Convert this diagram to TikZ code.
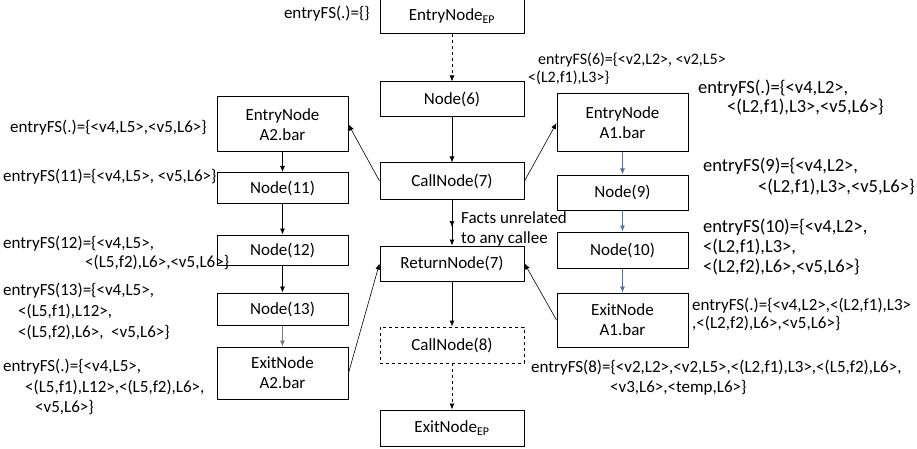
\documentclass[tikz,border=0pt]{standalone}
\usepackage{fontspec}
\setmainfont{Carlito}
\usetikzlibrary{arrows.meta, decorations.markings}
\definecolor{FlowBlue}{RGB}{68, 114, 196}
\definecolor{FlowGrey}{RGB}{120, 120, 120}
\newcommand{\fsfont}{\fontsize{17}{20}\selectfont}
\newcommand{\fsbig}{\fontsize{18.5}{20}\selectfont}
\newcommand{\fssmall}{\fontsize{16}{20}\selectfont}
\tikzset{
    cfgbox/.style={draw, line width=1pt, minimum width=144, align=center, font=\fsfont, inner sep=2pt},
    procbox/.style={cfgbox, minimum width=131},
    factnote/.style={anchor=base west, align=left, inner sep=0pt, font=\fsfont},
    flow/.style={line width=0.8pt, -{Latex[length=6pt, width=5pt]}},
    callflow/.style={line width=0.6pt, -{Latex[length=6pt, width=5pt]}},
    midarrow/.style={postaction={decorate}, decoration={markings,
        mark=at position 0.6 with {\arrow{Latex[length=6pt, width=5pt]}}}}
}
\begin{document}
\begin{tikzpicture}[x=1pt, y=-1pt]
        \useasboundingbox (0,0) rectangle (917,449);
        % main procedure
        \node[cfgbox, minimum height=36] (epEntry) at (452,16) {EntryNode\textsubscript{EP}};
        \node[cfgbox, minimum height=35] (n6) at (452,99.5) {Node(6)};
        \node[cfgbox, minimum height=36] (call7) at (452,181) {CallNode(7)};
        \node[cfgbox, minimum height=35] (ret7) at (452,263.5) {ReturnNode(7)};
        \node[cfgbox, minimum height=36, dashed, line width=0.8pt] (call8) at (452,345) {CallNode(8)};
        \node[cfgbox, minimum height=36] (epExit) at (452,428) {ExitNode\textsubscript{EP}};
        % callee A2.bar
        \node[procbox, minimum height=55] (a2Entry) at (282.5,124.5) {EntryNode\\A2.bar};
        \node[procbox, minimum height=31] (n11) at (282.5,188) {Node(11)};
        \node[procbox, minimum height=30] (n12) at (282.5,250) {Node(12)};
        \node[procbox, minimum height=32] (n13) at (282.5,309) {Node(13)};
        \node[procbox, minimum height=52] (a2Exit) at (282.5,373) {ExitNode\\A2.bar};
        % callee A1.bar
        \node[procbox, minimum height=58] (a1Entry) at (622.5,123) {EntryNode\\A1.bar};
        \node[procbox, minimum height=35] (n9) at (622.5,192.5) {Node(9)};
        \node[procbox, minimum height=36] (n10) at (622.5,250) {Node(10)};
        \node[procbox, minimum height=54] (a1Exit) at (622.5,320) {ExitNode\\A1.bar};

        \draw[flow, dashed] (epEntry) -- (n6);
        \draw[flow] (n6) -- (call7);
        \draw[flow, midarrow] (call7) -- (ret7);
        \draw[flow] (ret7) -- (call8);
        \draw[flow, dashed] (call8) -- (epExit);

        \draw[callflow] (call7.west) -- (a2Entry.east);
        \draw[callflow] (call7.east) -- (a1Entry.west);
        \draw[callflow] (a2Exit.east) -- (ret7.west);
        \draw[callflow] (a1Exit.west) -- (ret7.east);

        \draw[flow] (a2Entry) -- (n11);
        \draw[flow] (n11) -- (n12);
        \draw[flow] (n12) -- (n13);
        \draw[flow, FlowGrey] (n13) -- (a2Exit);
        \draw[flow, FlowBlue] (a1Entry) -- (n9);
        \draw[flow, FlowBlue] (n9) -- (n10);
        \draw[flow, FlowBlue] (n10) -- (a1Exit);

        \node[factnote] (unrel) at (461,243) {Facts unrelated\\to any callee};

        % entry fact sets (anchored at the baseline of their last line)
        \node[factnote, anchor=base east] (fsEp) at (370,19) {entryFS(.)=\{\}};
        \node[factnote, font=\fssmall] (fs6) at (528,83) {\hspace*{10pt}entryFS(6)=\{<v2,L2>, <v2,L5>\\[-2pt]<(L2,f1),L3>\}};
        \node[factnote, font=\fsbig] (fsA1) at (698,113) {entryFS(.)=\{<v4,L2>,\\[-1pt]\hspace*{29pt}<(L2,f1),L3>,<v5,L6>\}};
        \node[factnote] (fsA2) at (10,133) {entryFS(.)=\{<v4,L5>,<v5,L6>\}};
        \node[factnote] (fs11) at (3,181) {entryFS(11)=\{<v4,L5>, <v5,L6>\}};
        \node[factnote, font=\fsbig] (fs9) at (703,193) {entryFS(9)=\{<v4,L2>,\\[1pt]\hspace*{55pt}<(L2,f1),L3>,<v5,L6>\}};
        \node[factnote, font=\fsbig] (fs10) at (703,272) {entryFS(10)=\{<v4,L2>,\\<(L2,f1),L3>,\\<(L2,f2),L6>,<v5,L6>\}};
        \node[factnote] (fs12) at (3,267) {entryFS(12)=\{<v4,L5>,\\[-1pt]\hspace*{82pt}<(L5,f2),L6>,<v5,L6>\}};
        \node[factnote] (fs13) at (3,337) {entryFS(13)=\{<v4,L5>,\\[1pt]\hspace*{15pt}<(L5,f1),L12>,\\[1pt]\hspace*{15pt}<(L5,f2),L6>,\ \ <v5,L6>\}};
        \node[factnote] (fsA1x) at (692,328) {entryFS(.)=\{<v4,L2>,<(L2,f1),L3>\\[-2pt],<(L2,f2),L6>,<v5,L6>\}};
        \node[factnote] (fsA2x) at (3,412) {entryFS(.)=\{<v4,L5>,\\[1pt]\hspace*{22pt}<(L5,f1),L12>,<(L5,f2),L6>,\\\hspace*{32pt}<v5,L6>\}};
        \node[factnote] (fs8) at (531,392) {entryFS(8)=\{<v2,L2>,<v2,L5>,<(L2,f1),L3>,<(L5,f2),L6>,\\\hspace*{79pt}<v3,L6>,<temp,L6>\}};
    \end{tikzpicture}
\end{document}
